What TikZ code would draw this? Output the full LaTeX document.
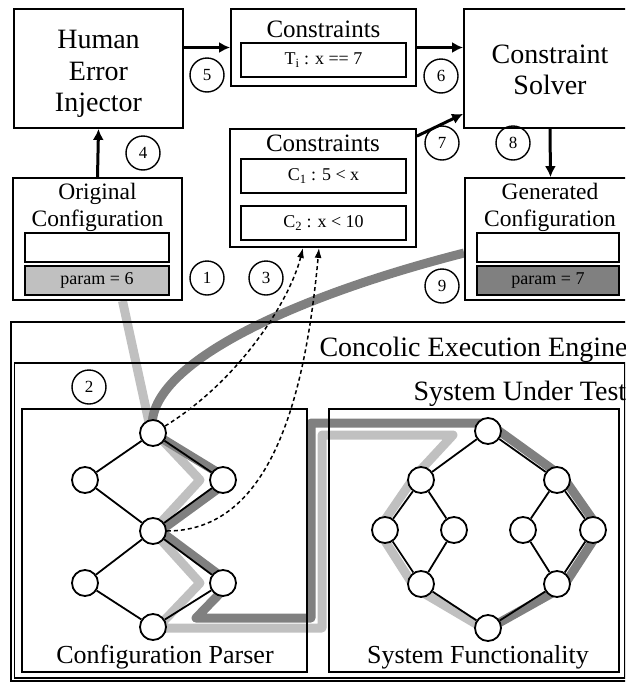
\documentclass[tikz,border=0pt]{standalone}
\usepackage{fontspec}
\setmainfont{Liberation Serif}
\usepackage{xcolor}
\usetikzlibrary{arrows.meta,backgrounds}

\definecolor{pathlight}{HTML}{C0C0C0}
\definecolor{pathdark}{HTML}{808080}

\begin{document}
\begin{tikzpicture}[x=1pt, y=-1pt,
        bigbox/.style={draw, line width=1.8pt, inner sep=0pt},
        subbox/.style={draw, line width=1.8pt, inner sep=0pt, minimum width=165, minimum height=34, font=\fontsize{18}{20}\selectfont},
        cfgbox/.style={draw, line width=1.8pt, inner sep=0pt, minimum height=29, font=\fontsize{18}{20}\selectfont},
        bigtext/.style={font=\fontsize{28}{31.5}\selectfont, align=center},
        midtext/.style={font=\fontsize{23.5}{27}\selectfont, align=center},
        stepnum/.style={draw, circle, line width=1.4pt, minimum size=34, inner sep=0pt, font=\fontsize{17}{17}\selectfont},
        vtx/.style={draw, circle, line width=1.8pt, fill=white, minimum size=26, inner sep=0pt},
        edge/.style={line width=1.8pt},
        arr/.style={line width=3pt, -{Latex[length=11pt,width=11pt]}},
        dasharr/.style={line width=1.5pt, dash pattern=on 4pt off 3pt, -{Latex[length=10pt,width=7pt]}},
        lightpath/.style={line width=9pt, pathlight, line join=round},
        darkpath/.style={line width=9pt, pathdark, line join=round}]
        \path[use as bounding box, clip] (0,0) rectangle (625,683);

        % top row
        \node[bigbox, minimum width=169, minimum height=119] (hei) at (98.5,68.5) {};
        \node[bigtext] (heitxt) at (98.5,74.3) {Human\\Error\\Injector};
        \node[bigbox, minimum width=185, minimum height=77] (cst) at (323.5,47.5) {};
        \node[font=\fontsize{25}{28}\selectfont, anchor=base] (csttxt) at (323.5,37.5) {Constraints};
        \node[subbox] (ti) at (323.5,60) {T\textsubscript{i} : x == 7};
        \node[bigbox, minimum width=164, minimum height=119] (cs) at (546,68.5) {};
        \node[bigtext] (cstxt) at (550,70) {Constraint\\Solver};

        % second row
        \node[bigbox, minimum width=186, minimum height=118] (csc) at (323,188) {};
        \node[font=\fontsize{25}{28}\selectfont, anchor=base] (csctxt) at (323,151.7) {Constraints};
        \node[subbox] (c1) at (323.5,176) {C\textsubscript{1} : 5 < x};
        \node[subbox] (c2) at (323.5,223) {C\textsubscript{2} : x < 10};

        \node[bigbox, minimum width=169, minimum height=122] (oc) at (97.5,239) {};
        \node[midtext] (octxt) at (97.5,207.7) {Original\\Configuration};
        \node[cfgbox, minimum width=144] (ocv) at (97,247.5) {};
        \node[cfgbox, minimum width=144, fill=pathlight] (ocp) at (97,280.5) {param = 6};

        \node[bigbox, minimum width=163, minimum height=122] (gc) at (546.5,239) {};
        \node[midtext] (gctxt) at (550,207.7) {Generated\\Configuration};
        \node[cfgbox, minimum width=142] (gcv) at (548,247.5) {};
        \node[cfgbox, minimum width=142, fill=pathdark] (gcp) at (548,280.5) {param = 7};

        % engine and system under test
        \draw[line width=1.5pt] (11,322) rectangle (640,681);      % engine
        \node[font=\fontsize{28}{31}\selectfont, anchor=base west] (cee) at (316,356.7) {Concolic Execution Engine};
        \draw[line width=1.5pt] (14.5,363) rectangle (625,678);    % SUT
        \node[font=\fontsize{28}{31}\selectfont, anchor=base west] (sut) at (410,400) {System Under Test};

        \node[bigbox, minimum width=285, minimum height=263] (cp) at (164.5,540.5) {};
        \node[font=\fontsize{26}{29}\selectfont, anchor=base] (cptxt) at (165,663) {Configuration Parser};
        \node[bigbox, minimum width=290, minimum height=263] (sf) at (474,540.5) {};
        \node[font=\fontsize{26}{29}\selectfont, anchor=base] (sftxt) at (478,663) {System Functionality};

        % graph nodes
        \foreach \name/\x/\y in {p1/153/433, p2/85/480, p3/223/480, p4/153/531, p5/85/583, p6/223/583, p7/153/627,
                s1/488/431, s2/421/480, s3/557/480, s4/385/530, s5/454/530, s6/523/530, s7/593/530,
                s8/421/584, s9/557/584, s10/488/628}
            \node[vtx] (\name) at (\x,\y) {};
        \foreach \a/\b in {p1/p2, p1/p3, p2/p4, p3/p4, p4/p5, p4/p6, p5/p7, p6/p7,
                s1/s2, s1/s3, s2/s4, s2/s5, s4/s8, s5/s8, s3/s6, s3/s7, s6/s9, s7/s9, s8/s10, s9/s10}
            \draw[edge] (\a) -- (\b);

        % execution paths
        \begin{pgfonlayer}{background}
        \draw[lightpath] ([xshift=25]oc.south) -- ([shift={(-3,-6)}]p1.center) -- ([xshift=-23]p3.center)
            -- (p4.center) -- ([xshift=-23]p6.center) -- ([shift={(4,1)}]p7.center) -- (322,628) -- (322,435)
            -- (453,435) -- ([shift={(-6,-4)}]s2.center) -- ([xshift=-7]s4.center) -- ([shift={(-6,4)}]s8.center)
            -- ([yshift=-3]s10.center);
        \draw[darkpath] ([yshift=-14]gc.west) .. controls (280,300) and (140,370) .. (p1.center)
            -- ([xshift=7]p3.center) -- ([xshift=7]p4.center) -- ([xshift=7]p6.center) -- (196,618) -- (311,618)
            -- (311,423) -- ([yshift=8]s1.center) -- ([shift={(6,-3)}]s3.center) -- ([xshift=7]s7.center)
            -- ([shift={(6,3)}]s9.center) -- ([yshift=-1]s10.center);
        \end{pgfonlayer}

        % arrows
        \draw[arr] (oc.north) -- (hei.south);                      % 4
        \draw[arr] (hei.east |- cst.west) -- (cst.west);           % 5
        \draw[arr] (cst.east) -- (cs.west |- cst.east);            % 6
        \draw[arr] ([yshift=-8]csc.north east) -- ([yshift=15]cs.south west); % 7
        \draw[arr] ([xshift=4]cs.south) -- ([xshift=4]gc.north);   % 8
        \draw[dasharr] (p1.30) .. controls (240,380) and (290,300) .. ([xshift=-20]csc.south);
        \draw[dasharr] (p4.east) .. controls (270,531) and (305,400) .. ([xshift=-4]csc.south);

        % step numbers
        \foreach \n/\x/\y in {1/207/278, 2/89/387, 3/266/278, 4/143/153, 5/207/75,
                6/441/76, 7/442/143, 8/513/143, 9/442/286}
            \node[stepnum] (n\n) at (\x,\y) {\n};
\end{tikzpicture}
\end{document}
